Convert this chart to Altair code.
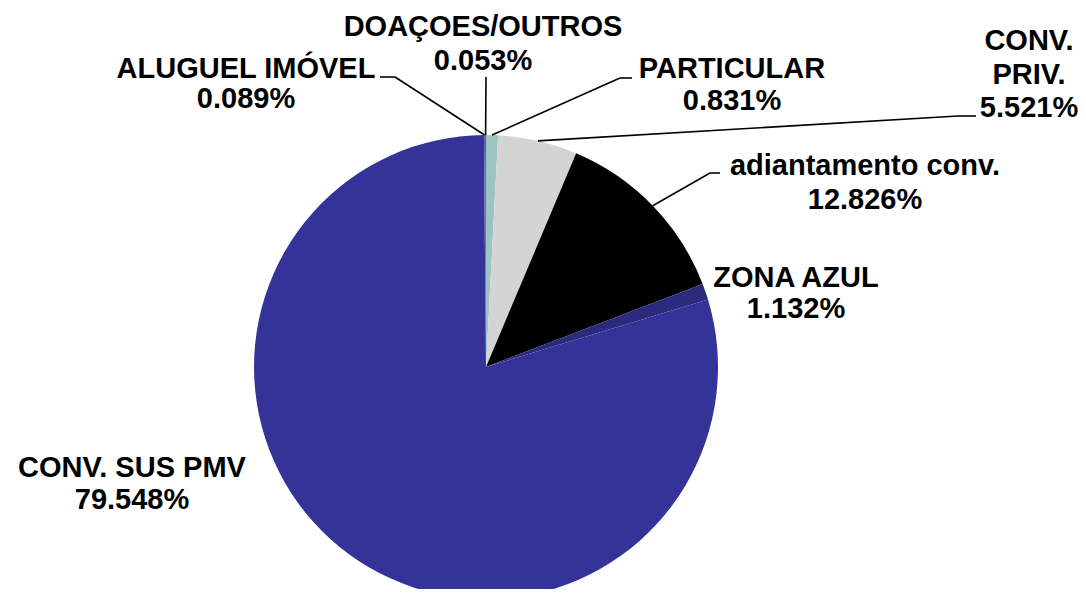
import math
import altair as alt
import pandas as pd

# ---- data (clockwise from 12 o'clock) ----
categories = ["PARTICULAR", "CONV. PRIV.", "adiantamento conv.", "ZONA AZUL",
              "CONV. SUS PMV", "ALUGUEL IMÓVEL", "DOAÇOES/OUTROS"]
values = [0.831, 5.521, 12.826, 1.132, 79.548, 0.089, 0.053]
colors = ["#9CC3C3", "#D4D4D4", "#000000", "#2B2B7E", "#333399", "#6666B3", "#333399"]
label_lines = [["PARTICULAR", "0.831%"],
               ["CONV.", "PRIV.", "5.521%"],
               ["adiantamento conv.", "12.826%"],
               ["ZONA AZUL", "1.132%"],
               ["CONV. SUS PMV", "79.548%"],
               ["ALUGUEL IMÓVEL", "0.089%"],
               ["DOAÇOES/OUTROS", "0.053%"]]

# ---- layout (screen pixels; svg sits at an 8px page margin) ----
M = 8
CX, CY, R = 486, 367, 232
FONT = "Liberation Sans"
FS = 29
# label: center x, first baseline y, line spacing
label_pos = [(732, 78, 32), (1029, 50, 33.5), (865, 175, 34), (796, 287, 31),
             (132, 477, 32), (246, 78, 30), (483, 36, 34)]
# leader: None or (elbow, end)
leaders = [((620, 78), (632, 78)), ((958, 116), (976, 116)), ((710, 173), (720, 173)),
           None, None, ((395, 77), (380, 77)), ((486, 77), (486, 77))]

df = pd.DataFrame({"cat": categories, "value": values, "idx": list(range(len(values)))})

arc = alt.Chart(df).mark_arc(radius=R).encode(
    theta=alt.Theta("value:Q", stack=True),
    order=alt.Order("idx:Q"),
    color=alt.Color("cat:N", scale=alt.Scale(domain=categories, range=colors), legend=None),
    x=alt.value(CX - M),
    y=alt.value(CY - M),
)

# text rows
rows = []
for i, lines in enumerate(label_lines):
    lx, ly, sp = label_pos[i]
    for j, t in enumerate(lines):
        rows.append({"t": t, "x": lx - M, "y": ly + j * sp - M})
tdf = pd.DataFrame(rows)
text = alt.Chart(tdf).mark_text(font=FONT, fontSize=FS, fontWeight="bold", color="black",
                                align="center", baseline="alphabetic").encode(
    x=alt.X("x:Q", scale=None, axis=None),
    y=alt.Y("y:Q", scale=None, axis=None),
    text="t:N",
)

# leader segments, starting at the slice mid-angle on the rim
segs = []
total = sum(values)
cum = 0.0
for i, v in enumerate(values):
    mid = (cum + v / 2) / total * 2 * math.pi
    cum += v
    if leaders[i] is None:
        continue
    sx = CX + R * math.sin(mid)
    sy = CY - R * math.cos(mid)
    (ex, ey), (fx, fy) = leaders[i]
    segs.append({"x": sx - M, "y": sy - M, "x2": ex - M, "y2": ey - M})
    if (fx, fy) != (ex, ey):
        segs.append({"x": ex - M, "y": ey - M, "x2": fx - M, "y2": fy - M})
sdf = pd.DataFrame(segs)
rules = alt.Chart(sdf).mark_rule(color="black", strokeWidth=1.6).encode(
    x=alt.X("x:Q", scale=None, axis=None),
    y=alt.Y("y:Q", scale=None, axis=None),
    x2="x2:Q",
    y2="y2:Q",
)

chart = alt.layer(arc, rules, text).properties(
    width=1070, height=581, padding=0, autosize="none"
).configure_view(stroke=None)

chart.save("out.html", embed_options={"renderer": "svg", "actions": False})
